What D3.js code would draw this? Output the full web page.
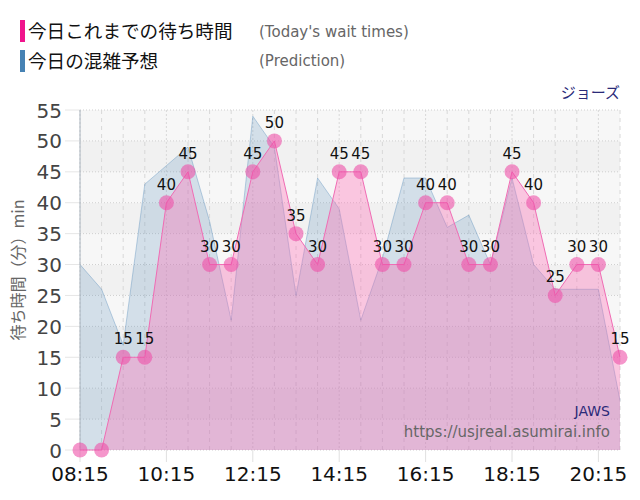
<!DOCTYPE html>
<html><head><meta charset="utf-8">
<script src="https://cdn.jsdelivr.net/npm/d3@7"></script>
<style>body{margin:0;background:#fff;}svg{display:block;}</style>
</head><body>
<svg id="c" width="640" height="500"></svg>
<script>
const times = ["08:15","08:45","09:15","09:45","10:15","10:45","11:15","11:45","12:15","12:45","13:15","13:45","14:15","14:45","15:15","15:45","16:15","16:45","17:15","17:45","18:15","18:45","19:15","19:45","20:15","20:45"];
const waitTimes = [0,0,15,15,40,45,30,30,45,50,35,30,45,45,30,30,40,40,30,30,45,40,25,30,30,15];
const prediction = [30,26,17,43,46,49,37,21,54,49,25,44,39,21,31,44,44,36,38,30,44,30,26,26,26,8];
const xTickLabels = ["08:15","10:15","12:15","14:15","16:15","18:15","20:15"];
const yTicks = [0,5,10,15,20,25,30,35,40,45,50,55];

const toMin = s => { const [h,m] = s.split(":").map(Number); return h*60+m; };
const svg = d3.select("#c");
const L = 80, R = 620, T = 110, B = 450;
const x = d3.scaleLinear().domain([toMin("08:15"), toMin("20:45")]).range([L, R]);
const y = d3.scaleLinear().domain([0, 55]).range([B, T]);
const jp = "'Noto Sans CJK JP','Noto Sans',sans-serif";
const num = "'DejaVu Sans',Verdana,sans-serif";

// bands
for (let i = 0; i < 11; i++) {
  svg.append("rect").attr("x", L).attr("width", R - L)
    .attr("y", y(5*(i+1))).attr("height", y(5*i) - y(5*(i+1)))
    .attr("fill", i % 2 === 0 ? "#f7f7f7" : "#f1f1f1");
}
// horizontal grid
svg.append("g").selectAll("line").data(yTicks).join("line")
  .attr("x1", L).attr("x2", R).attr("y1", d => y(d)).attr("y2", d => y(d))
  .attr("stroke", "#cfcfcf").attr("stroke-dasharray", "1,2");
// tick stubs left
svg.append("g").selectAll("line").data(yTicks).join("line")
  .attr("x1", 65).attr("x2", L).attr("y1", d => y(d)).attr("y2", d => y(d))
  .attr("stroke", "#e6e6e6");
// vertical grid
svg.append("g").selectAll("line").data(times).join("line")
  .attr("x1", d => x(toMin(d))).attr("x2", d => x(toMin(d)))
  .attr("y1", T).attr("y2", B)
  .attr("stroke", "#d8d8d8").attr("stroke-dasharray", d => xTickLabels.includes(d) ? "2,2" : "4,4");
svg.append("g").selectAll("line").data(xTickLabels).join("line")
  .attr("x1", d => x(toMin(d))).attr("x2", d => x(toMin(d)))
  .attr("y1", B).attr("y2", B + 12).attr("stroke", "#e0e0e0");

const data = times.map((t, i) => ({t: toMin(t), w: waitTimes[i], p: prediction[i]}));
const curve = d3.curveLinear;
// prediction area
svg.append("path").datum(data)
  .attr("d", d3.area().curve(curve).x(d => x(d.t)).y0(B).y1(d => y(d.p)))
  .attr("fill", "rgba(70,130,180,0.2)");
svg.append("path").datum(data)
  .attr("d", d3.line().curve(curve).x(d => x(d.t)).y(d => y(d.p)))
  .attr("fill", "none").attr("stroke", "rgba(70,130,180,0.35)").attr("stroke-width", 1);
// wait area
svg.append("path").datum(data)
  .attr("d", d3.area().curve(curve).x(d => x(d.t)).y0(B).y1(d => y(d.w)))
  .attr("fill", "rgba(255,105,180,0.35)");
svg.append("path").datum(data)
  .attr("d", d3.line().curve(curve).x(d => x(d.t)).y(d => y(d.w)))
  .attr("fill", "none").attr("stroke", "#f06cb4").attr("stroke-width", 1);

// left axis line
svg.append("line").attr("x1", L).attr("x2", L).attr("y1", T).attr("y2", B).attr("stroke", "#aab4be");

// dots
svg.append("g").selectAll("circle").data(data).join("circle")
  .attr("cx", d => x(d.t)).attr("cy", d => y(d.w)).attr("r", 7.5)
  .attr("fill", "rgba(238,80,168,0.6)");
// labels
svg.append("g").selectAll("text").data(data.filter(d => d.w > 0)).join("text")
  .attr("x", d => x(d.t)).attr("y", d => y(d.w) - 13)
  .attr("text-anchor", "middle").attr("font-family", num).attr("font-size", 15)
  .attr("fill", "#111").text(d => d.w);

// y tick labels
svg.append("g").selectAll("text").data(yTicks).join("text")
  .attr("x", 62).attr("y", d => y(d) + 7.5).attr("text-anchor", "end")
  .attr("font-family", num).attr("font-size", 20).attr("fill", "#444").text(d => d);
// x tick labels
svg.append("g").selectAll("text").data(xTickLabels).join("text")
  .attr("x", d => x(toMin(d))).attr("y", 481).attr("text-anchor", "middle")
  .attr("font-family", num).attr("font-size", 20).attr("fill", "#111").text(d => d);

// y title
svg.append("text").attr("transform", "translate(24,270) rotate(-90)")
  .attr("text-anchor", "middle").attr("font-family", jp).attr("font-size", 16)
  .attr("fill", "#666").text("待ち時間（分）min");

// legend
svg.append("rect").attr("x", 20).attr("y", 20).attr("width", 5).attr("height", 22).attr("fill", "#f0148c");
svg.append("rect").attr("x", 20).attr("y", 50).attr("width", 5).attr("height", 22).attr("fill", "#4682b4");
svg.append("text").attr("x", 28).attr("y", 38).attr("font-family", jp).attr("font-size", 18.6).attr("fill", "#111").text("今日これまでの待ち時間");
svg.append("text").attr("x", 28).attr("y", 68).attr("font-family", jp).attr("font-size", 18.6).attr("fill", "#111").text("今日の混雑予想");
svg.append("text").attr("x", 259).attr("y", 37).attr("font-family", num).attr("font-size", 15).attr("fill", "#666").text("(Today's wait times)");
svg.append("text").attr("x", 259).attr("y", 66).attr("font-family", num).attr("font-size", 15).attr("fill", "#666").text("(Prediction)");

svg.append("text").attr("x", 620).attr("y", 98).attr("text-anchor", "end").attr("font-family", jp).attr("font-size", 15).attr("fill", "#2a2a78").text("ジョーズ");
svg.append("text").attr("x", 610).attr("y", 416).attr("text-anchor", "end").attr("font-family", num).attr("font-size", 14).attr("fill", "#2a2a78").text("JAWS");
svg.append("text").attr("x", 610).attr("y", 437).attr("text-anchor", "end").attr("font-family", num).attr("font-size", 15).attr("fill", "#666").text("https://usjreal.asumirai.info");
</script>
</body></html>
